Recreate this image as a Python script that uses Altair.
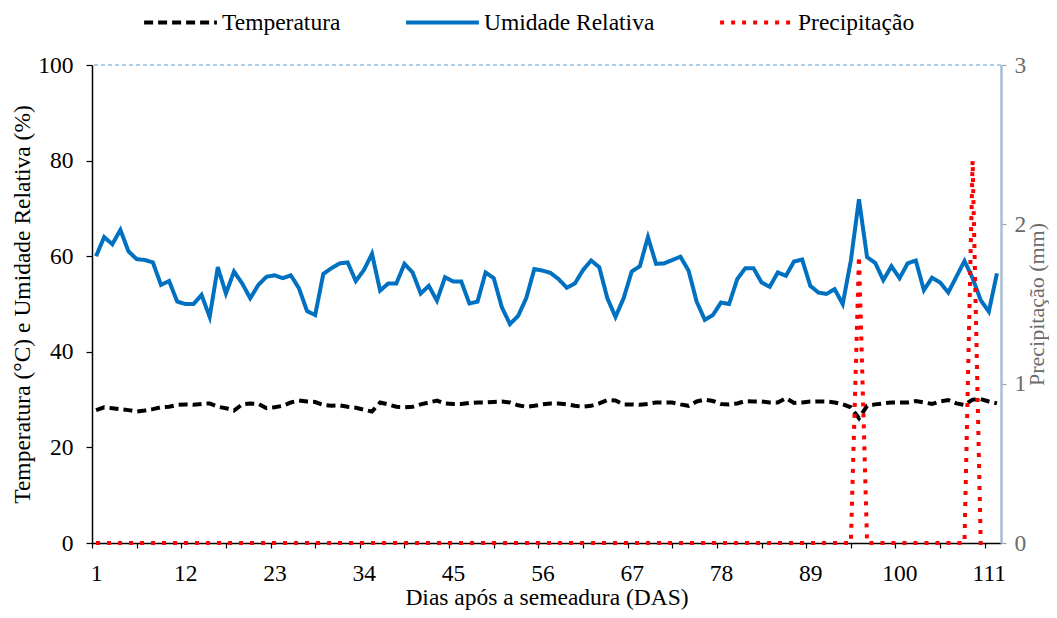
import altair as alt
import pandas as pd

# Days after sowing
days = list(range(1, 113))

temperatura = [
    27.8, 28.4, 28.2, 28.0, 27.8, 27.5, 27.7, 28.0, 28.4, 28.5,
    28.9, 29.0, 28.9, 29.1, 29.2, 28.5, 28.2, 27.7, 29.0, 29.2,
    29.1, 28.2, 28.4, 28.7, 29.4, 29.8, 29.6, 29.5, 28.9, 28.7,
    28.8, 28.5, 28.3, 27.9, 27.5, 29.4, 29.0, 28.5, 28.4, 28.5,
    29.0, 29.4, 29.8, 29.2, 29.1, 29.1, 29.3, 29.4, 29.4, 29.5,
    29.6, 29.4, 28.8, 28.5, 28.7, 29.0, 29.2, 29.2, 29.0, 28.7,
    28.5, 28.7, 29.2, 29.9, 29.8, 29.0, 29.0, 28.9, 29.1, 29.4,
    29.4, 29.4, 29.0, 28.7, 29.6, 30.0, 29.7, 29.1, 29.0, 29.2,
    29.7, 29.6, 29.6, 29.4, 29.4, 30.3, 29.3, 29.4, 29.6, 29.6,
    29.6, 29.4, 29.0, 28.4, 26.1, 28.7, 29.0, 29.2, 29.4, 29.4,
    29.4, 29.7, 29.4, 29.1, 29.6, 29.9, 29.2, 28.9, 30.0, 30.1,
    29.6, 29.2,
]

umidade = [
    60.0, 64.0, 62.5, 65.5, 61.0, 59.4, 59.2, 58.7, 54.0, 54.8,
    50.5, 50.0, 50.0, 51.9, 47.3, 57.7, 52.2, 56.8, 54.3, 51.2,
    54.0, 55.7, 56.0, 55.4, 56.0, 53.3, 48.5, 47.7, 56.3, 57.5,
    58.5, 58.7, 54.8, 57.1, 60.5, 52.8, 54.3, 54.3, 58.4, 56.6,
    52.2, 53.8, 50.7, 55.6, 54.7, 54.7, 50.1, 50.5, 56.6, 55.4,
    49.3, 45.8, 47.5, 51.2, 57.3, 57.0, 56.5, 55.2, 53.4, 54.3,
    57.1, 59.1, 57.7, 51.2, 47.3, 51.2, 56.8, 57.9, 64.0, 58.4,
    58.5, 59.2, 59.9, 57.0, 50.5, 46.7, 47.7, 50.3, 50.0, 55.2,
    57.5, 57.5, 54.5, 53.6, 56.6, 55.9, 58.9, 59.3, 53.8, 52.4,
    52.1, 53.1, 50.0, 59.1, 71.9, 59.8, 58.6, 55.0, 57.9, 55.4,
    58.5, 59.1, 52.9, 55.5, 54.5, 52.4, 55.7, 59.0, 55.4, 50.8,
    48.4, 56.4,
]

# Precipitation (mm), days 1..111
precipitacao = [0.0] * 111
precipitacao[95 - 1] = 1.8
precipitacao[109 - 1] = 2.4

series = ["Temperatura", "Umidade Relativa", "Precipitação"]
colors = ["#000000", "#0070C0", "#FF0000"]
dashes = [[9, 5], [1, 0], [4, 7]]

x_label_values = [1, 12, 23, 34, 45, 56, 67, 78, 89, 100, 111]
x_tick_values = [0.5 + 5.5 * k for k in range(21)]
left_ticks = [0, 20, 40, 60, 80, 100]
right_ticks = [0, 1, 2, 3]
top_line = [100]

left_df = pd.DataFrame({
    "dia": days * 2,
    "valor": temperatura + umidade,
    "serie": ["Temperatura"] * len(days) + ["Umidade Relativa"] * len(days),
})
right_df = pd.DataFrame({
    "dia": days[:len(precipitacao)],
    "valor": precipitacao,
    "serie": ["Precipitação"] * len(precipitacao),
})
top_df = pd.DataFrame({"y": top_line})

FONT = "Liberation Serif"
FS = 23.5

x_enc = alt.X(
    "dia:Q",
    scale=alt.Scale(domain=[0.5, 112.5], nice=False, zero=False),
    axis=alt.Axis(
        values=x_tick_values,
        labelExpr="indexof([" + ",".join(str(v) for v in x_label_values) + "], datum.value + 0.5) >= 0 ? format(datum.value + 0.5, 'd') : ''",
        labelOffset=4,
        labelFlush=False,
        labelOverlap=False,
        grid=False,
        title="Dias após a semeadura (DAS)",
        titlePadding=1,
        labelPadding=13,
        tickSize=5,
        domainColor="#000000",
        domainWidth=1.5,
        tickColor="#000000",
        tickWidth=1.2,
    ),
)

left_axis = alt.Axis(
    values=left_ticks,
    grid=False,
    title="Temperatura (°C) e Umidade Relativa (%)",
    titlePadding=3,
    labelPadding=13,
    tickSize=6,
    domainColor="#000000",
    domainWidth=1.5,
    tickColor="#000000",
    tickWidth=1.2,
    labelOverlap=False,
)
left_scale = alt.Scale(domain=[0, 100], nice=False)

legend = alt.Legend(
    title=None,
    orient="none",
    direction="horizontal",
    legendX=50,
    legendY=-81,
    symbolType="stroke",
    symbolSize=5300,
    symbolStrokeWidth=4,
    labelOffset=3,
    labelLimit=300,
    columnPadding=57,
    labelFontSize=FS,
    labelFont=FONT,
    labelColor="#000000",
)

color_enc = alt.Color("serie:N", scale=alt.Scale(domain=series, range=colors), legend=legend)
dash_enc = alt.StrokeDash("serie:N", scale=alt.Scale(domain=series, range=dashes), legend=legend)

top_rule = alt.Chart(top_df).mark_rule(
    color="#5B9BD5", strokeDash=[4, 3], strokeWidth=1.2
).encode(y=alt.Y("y:Q", scale=left_scale, axis=left_axis))

left_lines = alt.Chart(left_df).mark_line(strokeWidth=4).encode(
    x=x_enc,
    y=alt.Y("valor:Q", scale=left_scale, axis=left_axis),
    color=color_enc,
    strokeDash=dash_enc,
    order="dia:Q",
)

right_line = alt.Chart(right_df).mark_line(strokeWidth=4).encode(
    x=x_enc,
    y=alt.Y(
        "valor:Q",
        scale=alt.Scale(domain=[0, 3], nice=False),
        axis=alt.Axis(
            orient="right",
            values=right_ticks,
            grid=False,
            title="Precipitação (mm)",
            titleFontSize=22,
            titleAngle=270,
            titleBaseline="top",
            titlePadding=1,
            labelPadding=8,
            tickSize=5,
            domainColor="#A9BCCF",
            domainWidth=2.5,
            tickColor="#A0A0A0",
            tickWidth=1.2,
            labelColor="#6B6B6B",
            titleColor="#6B6B6B",
            labelOverlap=False,
        ),
    ),
    color=color_enc,
    strokeDash=dash_enc,
    order="dia:Q",
)

left = alt.layer(top_rule, left_lines)

chart = alt.layer(left, right_line).resolve_scale(y="independent").properties(
    width=909,
    height=478,
    autosize=alt.AutoSizeParams(type="none"),
    padding={"left": 84, "top": 57, "right": 48, "bottom": 67},
).configure_view(stroke=None).configure_axis(
    labelFont=FONT,
    titleFont=FONT,
    labelFontSize=FS,
    titleFontSize=FS,
    titleFontWeight="normal",
    labelColor="#000000",
    titleColor="#000000",
)

chart.save("out.html", embed_options={"renderer": "svg", "actions": False})
